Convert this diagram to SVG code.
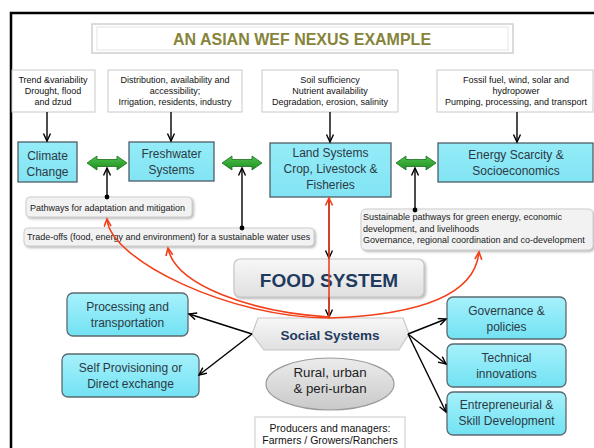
<svg xmlns="http://www.w3.org/2000/svg" width="594" height="448" viewBox="0 0 594 448">
  <style>
    .note { fill: #ffffff; stroke: #c9c9c9; stroke-width: 1; }
    .note-t { font-family: "Liberation Sans", Arial, sans-serif; font-size: 9px; fill: #111; text-anchor: middle; }
    .sys { fill: url(#cyanFlat); stroke: #4f5d66; stroke-width: 1.3; }
    .sys-r { fill: url(#cyanGrad); stroke: #5b6970; stroke-width: 1.3; }
    .sys-t { font-family: "Liberation Sans", Arial, sans-serif; font-size: 12px; fill: #2d3944; text-anchor: middle; }
    .path-box { fill: #f2f2f2; stroke: #cfcfcf; stroke-width: 1; filter: url(#shadow); }
    .path-t { font-family: "Liberation Sans", Arial, sans-serif; font-size: 9px; fill: #1a1a1a; }
    .blk { stroke: #000; stroke-width: 1.4; fill: none; }
    .red { stroke: #f2401a; stroke-width: 1.6; fill: none; }
    .head { font-family: "Liberation Sans", Arial, sans-serif; font-weight: bold; fill: #1f3a5f; text-anchor: middle; }
  </style>
  <defs>
    <linearGradient id="cyanFlat" x1="0" y1="0" x2="0" y2="1">
      <stop offset="0" stop-color="#94ecf8"/>
      <stop offset="1" stop-color="#82e4f3"/>
    </linearGradient>
    <linearGradient id="cyanGrad" x1="0" y1="0" x2="0" y2="1">
      <stop offset="0" stop-color="#a6f1fb"/>
      <stop offset="1" stop-color="#72e2f3"/>
    </linearGradient>
    <linearGradient id="greyGrad" x1="0" y1="0" x2="0" y2="1">
      <stop offset="0" stop-color="#f7f7f7"/>
      <stop offset="1" stop-color="#e0e0e0"/>
    </linearGradient>
    <linearGradient id="ovalGrad" x1="0" y1="0" x2="0" y2="1">
      <stop offset="0" stop-color="#ececec"/>
      <stop offset="1" stop-color="#c9c9c9"/>
    </linearGradient>
    <linearGradient id="greenGrad" x1="0" y1="0" x2="0" y2="1">
      <stop offset="0" stop-color="#4cc04c"/>
      <stop offset="1" stop-color="#1f8f1f"/>
    </linearGradient>
    <filter id="shadow" x="-10%" y="-20%" width="130%" height="160%">
      <feDropShadow dx="1.5" dy="1.5" stdDeviation="1" flood-color="#888" flood-opacity="0.6"/>
    </filter>
    <marker id="arrBlk" markerUnits="userSpaceOnUse" markerWidth="10" markerHeight="10" refX="8" refY="4" orient="auto">
      <path d="M0.5,0.5 L8,4 L0.5,7.5" fill="none" stroke="#000" stroke-width="1.4"/>
    </marker>
    <marker id="arrRed" markerUnits="userSpaceOnUse" markerWidth="10" markerHeight="10" refX="8" refY="4" orient="auto">
      <path d="M0.5,0.5 L8,4 L0.5,7.5" fill="none" stroke="#f2401a" stroke-width="1.6"/>
    </marker>
    <marker id="dot" markerUnits="userSpaceOnUse" markerWidth="6" markerHeight="6" refX="3" refY="3">
      <circle cx="3" cy="3" r="2.4" fill="#000"/>
    </marker>
    <!-- green two-way arrow, 40 px long, centred on y = 0 -->
    <path id="dbl" d="M0,0 L10,-7 L10,-3.5 L30,-3.5 L30,-7 L40,0 L30,7 L30,3.5 L10,3.5 L10,7 Z" fill="url(#greenGrad)" stroke="#1b6e1b" stroke-width="0.8"/>
  </defs>

  <rect width="594" height="448" fill="#ffffff"/>
  <!-- page frame -->
  <rect x="11" y="13" width="600" height="460" fill="none" stroke="#000" stroke-width="2.5"/>

  <!-- title -->
  <g id="title">
    <rect x="92" y="24" width="421" height="29" fill="#fff" stroke="#cfcfcf" stroke-width="1.5"/>
    <rect x="97" y="27" width="411" height="23" fill="none" stroke="#e4e4e4" stroke-width="1"/>
    <text x="302" y="45" font-family="'Liberation Sans', Arial, sans-serif" font-weight="bold" font-size="16" fill="#86843a" text-anchor="middle">AN ASIAN WEF NEXUS EXAMPLE</text>
  </g>

  <!-- driver notes -->
  <g id="note-climate">
    <rect class="note" x="12" y="70" width="83" height="42"/>
    <text class="note-t" x="53" y="83">Trend &amp;variability</text>
    <text class="note-t" x="53" y="94">Drought, flood</text>
    <text class="note-t" x="53" y="105">and dzud</text>
  </g>
  <g id="note-water">
    <rect class="note" x="108" y="70" width="134" height="42"/>
    <text class="note-t" x="175" y="83">Distribution, availability and</text>
    <text class="note-t" x="175" y="94">accessibility;</text>
    <text class="note-t" x="175" y="105">Irrigation, residents, industry</text>
  </g>
  <g id="note-land">
    <rect class="note" x="262" y="70" width="136" height="42"/>
    <text class="note-t" x="330" y="83">Soil sufficiency</text>
    <text class="note-t" x="330" y="94">Nutrient availability</text>
    <text class="note-t" x="330" y="105">Degradation, erosion, salinity</text>
  </g>
  <g id="note-energy">
    <rect class="note" x="437" y="70" width="156" height="42"/>
    <text class="note-t" x="516" y="83">Fossil fuel, wind, solar and</text>
    <text class="note-t" x="516" y="94">hydropower</text>
    <text class="note-t" x="516" y="105">Pumping, processing, and transport</text>
  </g>

  <!-- nexus sectors -->
  <g id="climate">
    <rect class="sys" x="18" y="142" width="59" height="40"/>
    <text class="sys-t" x="47.5" y="160">Climate</text>
    <text class="sys-t" x="47.5" y="176">Change</text>
  </g>
  <g id="freshwater">
    <rect class="sys" x="129" y="142" width="85" height="39"/>
    <text class="sys-t" x="171.5" y="158">Freshwater</text>
    <text class="sys-t" x="171.5" y="174">Systems</text>
  </g>
  <g id="land">
    <rect class="sys" x="270" y="143" width="121" height="54"/>
    <text class="sys-t" x="330.5" y="157">Land Systems</text>
    <text class="sys-t" x="330.5" y="173">Crop, Livestock &amp;</text>
    <text class="sys-t" x="330.5" y="189">Fisheries</text>
  </g>
  <g id="energy">
    <rect class="sys" x="438" y="143" width="155" height="39"/>
    <text class="sys-t" x="516" y="159">Energy Scarcity &amp;</text>
    <text class="sys-t" x="516" y="175">Socioeconomics</text>
  </g>

  <!-- pathway notes -->
  <g id="pathways">
    <rect class="path-box" x="26" y="197" width="166" height="20" rx="4"/>
    <text class="path-t" x="30" y="211">Pathways for adaptation and mitigation</text>
  </g>
  <g id="tradeoffs">
    <rect class="path-box" x="24" y="228" width="290" height="18" rx="4"/>
    <text class="path-t" x="27" y="240">Trade-offs (food, energy and environment) for a sustainable water uses</text>
  </g>
  <g id="sustainable">
    <rect class="path-box" x="361" y="209" width="232" height="41" rx="5"/>
    <text class="path-t" x="363" y="220">Sustainable pathways for green energy, economic</text>
    <text class="path-t" x="363" y="232">development, and livelihoods</text>
    <text class="path-t" x="363" y="243">Governance, regional coordination and co-development</text>
  </g>

  <!-- food system -->
  <g id="food-system">
    <rect x="234" y="259" width="190" height="38" rx="6" fill="url(#greyGrad)" stroke="#c6c6c6" stroke-width="1.2" filter="url(#shadow)"/>
    <text class="head" x="329" y="287" font-size="19">FOOD SYSTEM</text>
  </g>

  <!-- social systems -->
  <g id="social-systems">
    <polygon points="258,318 403,318 409,334 399,350 264,350 252,334" fill="url(#greyGrad)" stroke="#c8c8c8" stroke-width="1.2"/>
    <text class="head" x="330" y="340" font-size="13.5">Social Systems</text>
  </g>

  <g id="rural-urban">
    <ellipse cx="330" cy="384" rx="64" ry="26" fill="url(#ovalGrad)" stroke="#9a9a9a" stroke-width="1.2"/>
    <text x="330" y="377" font-family="'Liberation Sans', Arial, sans-serif" font-size="13.3" fill="#222" text-anchor="middle">Rural, urban</text>
    <text x="330" y="393" font-family="'Liberation Sans', Arial, sans-serif" font-size="13.3" fill="#222" text-anchor="middle">&amp; peri-urban</text>
  </g>

  <g id="producers">
    <rect class="note" x="255" y="417" width="150" height="40"/>
    <text x="330" y="432" font-family="'Liberation Sans', Arial, sans-serif" font-size="10.5" fill="#111" text-anchor="middle">Producers and managers:</text>
    <text x="330" y="444" font-family="'Liberation Sans', Arial, sans-serif" font-size="10.5" fill="#111" text-anchor="middle">Farmers / Growers/Ranchers</text>
  </g>

  <!-- social outcomes -->
  <g id="processing">
    <rect class="sys-r" x="67" y="293" width="121" height="43" rx="6"/>
    <text class="sys-t" x="127.5" y="311">Processing and</text>
    <text class="sys-t" x="127.5" y="327">transportation</text>
  </g>
  <g id="self-provisioning">
    <rect class="sys-r" x="62" y="354" width="137" height="43" rx="6"/>
    <text class="sys-t" x="130.5" y="372">Self Provisioning or</text>
    <text class="sys-t" x="130.5" y="388">Direct exchange</text>
  </g>
  <g id="governance">
    <rect class="sys-r" x="447" y="297" width="119" height="42" rx="6"/>
    <text class="sys-t" x="506.5" y="315">Governance &amp;</text>
    <text class="sys-t" x="506.5" y="331">policies</text>
  </g>
  <g id="technical">
    <rect class="sys-r" x="447" y="344" width="119" height="43" rx="6"/>
    <text class="sys-t" x="506.5" y="362">Technical</text>
    <text class="sys-t" x="506.5" y="378">innovations</text>
  </g>
  <g id="entrepreneurial">
    <rect class="sys-r" x="447" y="392" width="119" height="43" rx="6"/>
    <text class="sys-t" x="506.5" y="409">Entrepreneurial &amp;</text>
    <text class="sys-t" x="506.5" y="425">Skill Development</text>
  </g>

  <!-- connectors -->
  <g id="connectors">
    <!-- driver notes to sectors -->
    <line class="blk" x1="47" y1="112" x2="47" y2="141" marker-end="url(#arrBlk)"/>
    <line class="blk" x1="171" y1="112" x2="171" y2="141" marker-end="url(#arrBlk)"/>
    <line class="blk" x1="330" y1="112" x2="330" y2="142" marker-end="url(#arrBlk)"/>
    <line class="blk" x1="517" y1="112" x2="517" y2="142" marker-end="url(#arrBlk)"/>

    <!-- two-way links between sectors -->
    <use href="#dbl" x="87" y="163"/>
    <use href="#dbl" x="222" y="163"/>
    <use href="#dbl" x="396" y="163"/>

    <!-- pathway notes tied to the links -->
    <line class="blk" x1="107" y1="197" x2="107" y2="168" marker-start="url(#dot)" marker-end="url(#arrBlk)"/>
    <line class="blk" x1="242" y1="228" x2="242" y2="168" marker-start="url(#dot)" marker-end="url(#arrBlk)"/>
    <line class="blk" x1="415" y1="210" x2="415" y2="168" marker-start="url(#dot)" marker-end="url(#arrBlk)"/>

    <!-- land - food - social spine -->
    <line class="blk" x1="329" y1="199" x2="329" y2="258" marker-end="url(#arrBlk)"/>
    <line class="blk" x1="329" y1="297" x2="329" y2="317" marker-end="url(#arrBlk)"/>
    <line class="red" x1="329" y1="318" x2="329" y2="198" marker-end="url(#arrRed)"/>

    <!-- feedback to the pathway notes -->
    <path class="red" d="M329,318 C230,318 110,260 107,219" marker-end="url(#arrRed)"/>
    <path class="red" d="M329,317 C250,312 175,285 168,248" marker-end="url(#arrRed)"/>
    <path class="red" d="M329,318 C420,315 475,295 479,252" marker-end="url(#arrRed)"/>

    <!-- social systems to outcomes -->
    <line class="blk" x1="252" y1="334" x2="189" y2="314" marker-end="url(#arrBlk)"/>
    <line class="blk" x1="252" y1="334" x2="199" y2="375" marker-end="url(#arrBlk)"/>
    <line class="blk" x1="408" y1="334" x2="446" y2="319" marker-end="url(#arrBlk)"/>
    <line class="blk" x1="408" y1="334" x2="446" y2="364" marker-end="url(#arrBlk)"/>
    <line class="blk" x1="408" y1="334" x2="446" y2="412" marker-end="url(#arrBlk)"/>
  </g>
</svg>
